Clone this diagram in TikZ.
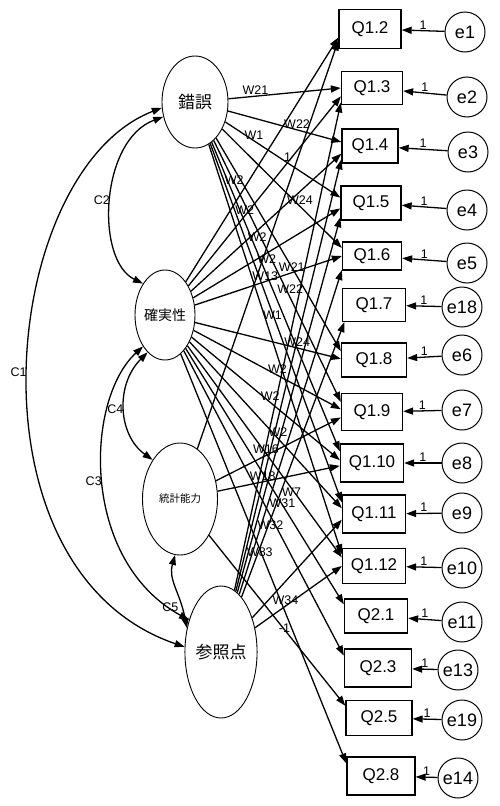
\documentclass[tikz,border=0pt]{standalone}
\usepackage{fontspec}
\setmainfont{Liberation Sans}
\newfontfamily\jp{Noto Sans CJK JP}
\usetikzlibrary{shapes.geometric,arrows.meta}
\begin{document}
\begin{tikzpicture}[x=1pt,y=-1pt,
 lat/.style={draw,ellipse,inner sep=0pt,line width=0.9pt},
 obs/.style={draw,rectangle,inner sep=0pt,line width=1.3pt,font=\fontsize{17}{17}\selectfont},
 err/.style={draw,circle,inner sep=0pt,minimum size=40pt,line width=1pt,font=\fontsize{18}{18}\selectfont},
 pth/.style={line width=1.3pt,-{Triangle[length=10pt,width=7pt]}},
 cov/.style={line width=1.3pt,{Triangle[length=10pt,width=7pt]}-{Triangle[length=10pt,width=7pt]}},
 lab/.style={font=\fontsize{12.5}{12.5}\selectfont,inner sep=1pt},
]
\useasboundingbox (0,0) rectangle (500,806);

% latent variables
\node[lat,minimum width=66pt,minimum height=92pt] (E) at (195,102) {\jp\fontsize{17}{17}\selectfont 錯誤};
\node[lat,minimum width=60pt,minimum height=90pt] (K) at (165,315) {\jp\fontsize{14}{14}\selectfont 確実性};
\node[lat,minimum width=75pt,minimum height=112pt] (S) at (180,499) {\jp\fontsize{10.5}{10.5}\selectfont 統計能力};
\node[lat,minimum width=70pt,minimum height=132pt] (R) at (221,652) {\jp\fontsize{17}{17}\selectfont 参照点};

% observed variables
\node[obs,minimum width=62pt,minimum height=39pt] (Q12) at (370,29) {Q1.2};
\node[obs,minimum width=61pt,minimum height=33pt] (Q13) at (372,88) {Q1.3};
\node[obs,minimum width=56pt,minimum height=34pt] (Q14) at (370,146) {Q1.4};
\node[obs,minimum width=60pt,minimum height=34pt] (Q15) at (371,203) {Q1.5};
\node[obs,minimum width=59pt,minimum height=28pt] (Q16) at (372,256) {Q1.6};
\node[obs,minimum width=63pt,minimum height=33pt] (Q17) at (374,305) {Q1.7};
\node[obs,minimum width=65pt,minimum height=34pt] (Q18) at (374,360) {Q1.8};
\node[obs,minimum width=61pt,minimum height=37pt] (Q19) at (372,412) {Q1.9};
\node[obs,minimum width=63pt,minimum height=38pt] (Q110) at (372,463) {Q1.10};
\node[obs,minimum width=63pt,minimum height=38pt] (Q111) at (374,514) {Q1.11};
\node[obs,minimum width=63pt,minimum height=35pt] (Q112) at (374,566) {Q1.12};
\node[obs,minimum width=63pt,minimum height=34pt] (Q21) at (376,616) {Q2.1};
\node[obs,minimum width=67pt,minimum height=38pt] (Q23) at (378,668) {Q2.3};
\node[obs,minimum width=66pt,minimum height=35pt] (Q25) at (379,718) {Q2.5};
\node[obs,minimum width=68pt,minimum height=38pt] (Q28) at (381,776) {Q2.8};

% error terms
\node[err] (e1) at (465,32) {e1};
\node[err] (e2) at (467,97) {e2};
\node[err] (e3) at (468,152) {e3};
\node[err] (e4) at (467,210) {e4};
\node[err] (e5) at (467,263) {e5};
\node[err] (e18) at (462,307) {e18};
\node[err] (e6) at (462,355) {e6};
\node[err] (e7) at (462,410) {e7};
\node[err] (e8) at (462,463) {e8};
\node[err] (e9) at (462,513) {e9};
\node[err] (e10) at (462,568) {e10};
\node[err] (e11) at (462,622) {e11};
\node[err] (e13) at (458,670) {e13};
\node[err] (e19) at (462,720) {e19};
\node[err] (e14) at (458,778) {e14};

\foreach \e/\q in {e1/Q12,e2/Q13,e3/Q14,e4/Q15,e5/Q16,e18/Q17,e6/Q18,e7/Q19,e8/Q110,e9/Q111,e10/Q112,e11/Q21,e13/Q23,e19/Q25,e14/Q28}
  \draw[pth] (\e) -- (\q) node[lab,pos=.5,above]{1};

% paths from 錯誤
\draw[pth] (E) -- (Q13.180) node[lab,pos=.24,above]{W21};
\draw[pth] (E) -- (Q14.172) node[lab,pos=.61,above]{W22};
\draw[pth] (E) -- (Q15.170) node[lab,pos=.25,above]{W1};
\draw[pth] (E) -- (Q16.165) node[lab,pos=.65,above]{W24};
\draw[pth] (E) -- (Q18.165) node[lab,pos=.71,left]{W22};
\draw[pth] (E) -- (Q19.162) node[lab,pos=.52,left]{W13};
\draw[pth] (E) -- (Q110.160) node[lab,pos=.56,left]{W1};
\draw[pth] (E) -- (Q111.160);
\draw[pth] (E) -- (Q112.160);

% paths from 確実性
\draw[pth] (K) -- (Q12.195) node[lab,pos=.39,above left]{W2};
\draw[pth] (K) -- (Q13.195) node[lab,pos=.37,above]{W2} node[lab,pos=.65,above]{1};
\draw[pth] (K) -- (Q14.195) node[lab,pos=.44,below]{W2};
\draw[pth] (K) -- (Q15.190) node[lab,pos=.5,below]{W2};
\draw[pth] (K) -- (Q16.180) node[lab,pos=.66,above]{W21};
\draw[pth] (K) -- (Q18.178) node[lab,pos=.7,above]{W24};
\draw[pth] (K) -- (Q19.175) node[lab,pos=.57,above]{W2};
\draw[pth] (K) -- (Q110.175) node[lab,pos=.53,above]{W2};
\draw[pth] (K) -- (Q111.170) node[lab,pos=.58,above]{W2};
\draw[pth] (K) -- (Q112.165);
\draw[pth] (K) -- (Q21.160);
\draw[pth] (K) -- (Q23.160);
\draw[pth] (K) -- (Q28.160) node[lab,pos=.67,left]{-1};

% paths from 統計能力
\draw[pth] (S) -- (Q12.200);
\draw[pth] (S) -- (Q19.190) node[lab,pos=.4,above]{W16};
\draw[pth] (S) -- (Q110.185) node[lab,pos=.37,above]{W18};
\draw[pth] (S) -- (Q25.160);

% paths from 参照点
\draw[pth] (R) -- (Q13.205);
\draw[pth] (R) -- (Q14.205) node[lab,pos=.09,right]{W83};
\draw[pth] (R) -- (Q15.205) node[lab,pos=.18,right]{W32};
\draw[pth] (R) -- (Q16.205) node[lab,pos=.28,right]{W31};
\draw[pth] (R) -- (Q17.210) node[lab,pos=.38,right]{W7};
\draw[pth] (R) -- (Q111.190);
\draw[pth] (R) -- (Q112.180) node[lab,pos=.35,above]{W34};

% covariances
\draw[cov] (E.190) .. controls (0,170) and (-40,570) .. (R.172) node[lab,pos=.5,left]{C1};
\draw[cov] (E.205) .. controls (100,140) and (95,260) .. (K.125) node[lab,pos=.5,left]{C2};
\draw[cov] (K.235) .. controls (85,400) and (80,560) .. (R.135) node[lab,pos=.5,left]{C3};
\draw[cov] (K.245) .. controls (115,385) and (118,435) .. (S.125) node[lab,pos=.5,left]{C4};
\draw[cov] (S.265) .. controls (168,580) and (180,592) .. (R.145) node[lab,pos=.7,below left]{C5};
\end{tikzpicture}
\end{document}
